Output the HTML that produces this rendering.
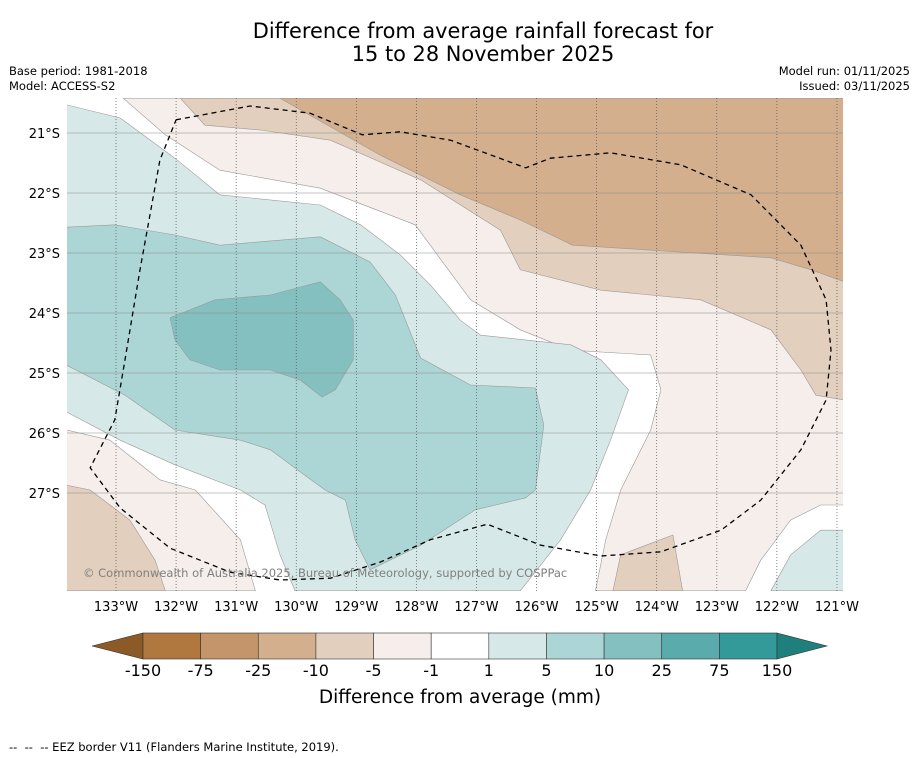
<!DOCTYPE html>
<html><head><meta charset="utf-8"><style>
body{margin:0;background:#fff;}
svg{display:block;font-family:"DejaVu Sans","Liberation Sans",sans-serif;}
</style></head><body>
<svg id="s" width="919" height="758" viewBox="0 0 919 758">
<defs><clipPath id="mc"><rect x="67" y="98" width="776" height="493"/></clipPath></defs>
<text x="483" y="38" text-anchor="middle" font-size="20.9">Difference from average rainfall forecast for</text>
<text x="483" y="61" text-anchor="middle" font-size="20.9">15 to 28 November 2025</text>
<text x="9" y="75" font-size="11.5">Base period: 1981-2018</text>
<text x="9" y="90" font-size="11.5">Model: ACCESS-S2</text>
<text x="910" y="75" font-size="11.5" text-anchor="end">Model run: 01/11/2025</text>
<text x="910" y="90" font-size="11.5" text-anchor="end">Issued: 03/11/2025</text>
<rect x="67" y="98" width="776" height="493" fill="#fff"/>
<g id="fills" clip-path="url(#mc)"></g>
<g id="grid" clip-path="url(#mc)"></g>
<g id="eezg" clip-path="url(#mc)"></g>
<text x="83" y="577" font-size="11.5" fill="#808080">© Commonwealth of Australia 2025, Bureau of Meteorology, supported by COSPPac</text>
<g id="axes"></g>
<g id="cbar"></g>
<text x="460" y="703" text-anchor="middle" font-size="18.5">Difference from average (mm)</text>
<text x="9" y="751" font-size="11.5" xml:space="preserve" style="white-space:pre">--  --  -- EEZ border V11 (Flanders Marine Institute, 2019).</text>
</svg>
<script>
const lonTicks=[133,132,131,130,129,128,127,126,125,124,123,122,121];
const latTicks=[21,22,23,24,25,26,27];
const cbLabels=["-150","-75","-25","-10","-5","-1","1","5","10","25","75","150"];
const cbColors=["#b0773f","#c4956a","#d3af8d","#e3cfbd","#f5eeea","#ffffff","#d6e9e8","#acd5d5","#84c0c0","#5aabab","#339999"];
const beige1=[[132.88,20.42],[120.88,20.42],[120.88,27.2],[121.27,27.2],[121.77,27.45],[122.27,28.12],[122.52,28.63],[125.02,28.63],[124.85,27.78],[124.6,26.95],[124.1,25.95],[123.93,25.28],[124.1,24.7],[125.43,24.62],[126.27,24.28],[127.1,23.78],[128.02,22.53],[129.6,21.92],[131.27,21.62],[132.18,21.03]];
const beigeBL=[[133.82,25.95],[133.1,26.12],[132.27,26.78],[131.68,26.95],[130.93,27.78],[130.68,28.63],[133.82,28.63]];
const tan1=[[131.93,20.42],[131.52,20.87],[130.6,20.95],[129.43,21.12],[127.93,21.78],[126.6,22.62],[126.27,23.28],[124.93,23.62],[123.27,23.78],[122.1,24.28],[121.6,24.95],[121.35,25.37],[120.88,25.45],[120.88,20.42]];
const tanBL=[[133.82,26.87],[133.43,26.95],[132.77,27.45],[132.35,28.12],[132.18,28.63],[133.82,28.63]];
const tanBR=[[124.73,28.63],[124.6,28.03],[123.73,27.7],[123.57,28.63]];
const tan2=[[130.27,20.42],[128.6,21.37],[127.27,22.03],[126.27,22.45],[125.4,22.87],[122.1,23.08],[121.43,23.28],[120.88,23.48],[120.88,20.42]];
const teal1=[[133.82,20.53],[132.93,20.75],[132.02,21.42],[131.27,22.03],[129.6,22.2],[128.93,22.53],[128.27,23.03],[127.77,23.53],[127.27,24.12],[126.93,24.37],[125.43,24.53],[124.93,24.78],[124.47,25.28],[124.77,26.12],[125.1,26.95],[125.6,27.78],[126.27,28.63],[130.02,28.63],[130.27,28.03],[130.52,27.2],[130.93,26.95],[132.02,26.53],[132.93,26.12],[133.82,25.65]];
const tealBR=[[122.1,28.63],[121.77,28.03],[121.27,27.62],[120.88,27.62],[120.88,28.63]];
const teal2=[[133.82,22.57],[133.02,22.53],[132.02,22.7],[131.27,22.87],[129.6,22.73],[128.77,23.15],[128.35,23.7],[127.93,24.75],[127.1,25.2],[126.02,25.25],[125.88,25.87],[126.02,26.95],[126.18,27.08],[127.02,27.28],[127.93,27.87],[128.77,28.28],[129.02,27.78],[129.18,27.12],[129.52,26.95],[129.93,26.65],[130.43,26.28],[130.93,26.12],[132.02,25.95],[132.85,25.37],[133.82,24.87]];
const teal3=[[132.1,24.08],[131.35,23.78],[130.43,23.7],[129.6,23.48],[129.27,23.78],[129.05,24.12],[129.05,24.78],[129.35,25.28],[129.57,25.4],[129.93,25.12],[130.43,24.95],[131.27,24.95],[131.77,24.78],[132.02,24.45]];
const eez=[[132.0,20.78],[130.77,20.55],[129.77,20.67],[128.9,21.03],[128.27,20.98],[127.43,21.12],[126.18,21.58],[125.77,21.42],[124.77,21.33],[123.6,21.53],[122.43,22.03],[121.6,22.87],[121.18,23.78],[121.1,24.62],[121.18,25.45],[121.6,26.28],[122.27,27.12],[122.93,27.62],[123.93,27.98],[124.93,28.05],[125.93,27.87],[126.82,27.52],[127.77,27.78],[128.6,28.15],[129.43,28.42],[130.27,28.45],[131.1,28.32],[132.1,27.92],[132.93,27.25],[133.43,26.58],[133.02,25.78],[132.85,24.78],[132.6,23.28],[132.27,21.45],[132.0,20.78]];
const NS="http://www.w3.org/2000/svg";
function X(lon){return 116+(133-lon)*60.08;}
function Y(lat){return 133+(lat-21)*60;}
function pts(a){return a.map(p=>X(p[0]).toFixed(1)+","+Y(p[1]).toFixed(1)).join(" ");}
function mk(tag,at,parent){const e=document.createElementNS(NS,tag);for(const k in at)e.setAttribute(k,at[k]);parent.appendChild(e);return e;}
const fills=document.getElementById('fills');
const layers=[[beige1,"#f5eeea","fill-minus1-to-minus5"],[beigeBL,"#f5eeea","fill-minus1-southwest"],[tan1,"#e3cfbd","fill-minus5-to-minus10"],[tanBL,"#e3cfbd","fill-minus5-southwest"],[tanBR,"#e3cfbd","fill-minus5-southeast"],[tan2,"#d3af8d","fill-minus10-to-minus25"],[teal1,"#d6e9e8","fill-1-to-5"],[tealBR,"#d6e9e8","fill-1-to-5-southeast"],[teal2,"#acd5d5","fill-5-to-10"],[teal3,"#84c0c0","fill-10-to-25"]];
layers.forEach(l=>{
 const e=mk('polygon',{points:pts(l[0]),fill:l[1],stroke:"#9a9a9a","stroke-width":"0.6"},fills);
 
 
});
const grid=document.getElementById('grid'),axes=document.getElementById('axes');
lonTicks.forEach(v=>{
 const g=mk('line',{x1:X(v),x2:X(v),y1:98,y2:591,stroke:"#555","stroke-width":"0.7","stroke-dasharray":"1,2"},grid);
 
 
 const t=mk('text',{x:X(v),y:611,"text-anchor":"middle","font-size":"13"},axes);t.textContent=v+"°W";
 
 
});
latTicks.forEach(v=>{
 const g=mk('line',{x1:67,x2:843,y1:Y(v),y2:Y(v),stroke:"#8a8a8a","stroke-width":"0.6"},grid);
 
 
 const t=mk('text',{x:60,y:Y(v)+5,"text-anchor":"end","font-size":"13"},axes);t.textContent=v+"°S";
 
 
});
const ez=mk('polyline',{points:pts(eez),fill:"none",stroke:"#000","stroke-width":"1.3","stroke-dasharray":"5,4"},document.getElementById('eezg'));


const cb=document.getElementById('cbar');
const bx0=143,bw=(777-143)/11,cy0=633,cy1=659;
const lt=mk('polygon',{points:`92,646 ${bx0},${cy0} ${bx0},${cy1}`,fill:"#8c5a26",stroke:"#333","stroke-width":"0.6"},cb);


cbColors.forEach((c,i)=>{
 const r=mk('rect',{x:bx0+i*bw,y:cy0,width:bw,height:cy1-cy0,fill:c,stroke:"#333","stroke-width":"0.6"},cb);
 
 
});
const rt=mk('polygon',{points:`777,${cy0} 827,646 777,${cy1}`,fill:"#1f7f7c",stroke:"#333","stroke-width":"0.6"},cb);


cbLabels.forEach((s,i)=>{
 const t=mk('text',{x:bx0+i*bw,y:676,"text-anchor":"middle","font-size":"16"},cb);t.textContent=s;
 
 
});
</script>
</body></html>
